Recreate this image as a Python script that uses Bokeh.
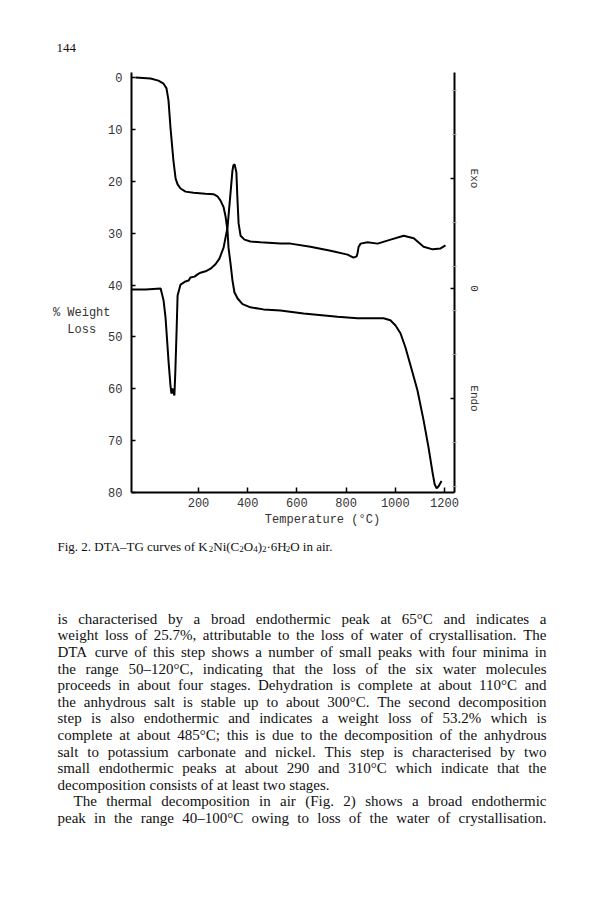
from bokeh.plotting import figure
from bokeh.layouts import column
from bokeh.models import Range1d, LinearAxis, FixedTicker
from bokeh.core.properties import value
from bokeh.embed import file_html
from bokeh.resources import INLINE

# ---------------- data ----------------
# TG curve: temperature (deg C) vs weight loss (%)
tg_temp = [-56, 5, 37, 58, 70, 78, 86, 98, 107, 115, 127, 147, 180, 228, 261, 277, 289, 302, 310,
           318, 322, 330, 338, 346, 359, 379, 411, 464, 533, 627, 765, 846, 952, 980, 1001, 1021,
           1041, 1062, 1090, 1115, 1135, 1152, 1160, 1168, 1176, 1188]
tg_loss = [0.0, 0.2, 0.6, 1.2, 2.1, 4.4, 9.6, 16.0, 19.5, 20.6, 21.4, 22.0, 22.2, 22.4, 22.5, 22.9,
           23.7, 25.0, 26.8, 29.5, 32.8, 35.8, 39.1, 41.4, 42.6, 43.7, 44.3, 44.7, 44.9, 45.5, 46.1,
           46.4, 46.4, 46.8, 47.8, 49.3, 52.0, 55.5, 60.3, 66.1, 71.3, 76.3, 78.4, 79.2, 78.8, 77.8]

# DTA curve: temperature (deg C) vs signal (arbitrary units, exo up)
dta_temp = [-72, -15, 46, 58, 66, 78, 86, 90, 94, 98, 102, 106, 111, 115, 127, 147, 160, 167, 184,
            196, 208, 229, 249, 269, 285, 302, 318, 330, 338, 342, 347, 354, 358, 363, 371, 387,
            411, 452, 533, 574, 655, 737, 806, 830, 843, 847, 851, 859, 887, 928, 981, 1034, 1075,
            1115, 1152, 1184, 1204]
dta_signal = [-0.02, -0.02, 0.0, -0.27, -0.66, -1.64, -2.20, -2.39, -2.27, -2.36, -2.43, -1.86,
              -0.95, -0.16, 0.09, 0.16, 0.18, 0.25, 0.27, 0.32, 0.36, 0.39, 0.45, 0.55, 0.68, 0.93,
              1.39, 2.16, 2.68, 2.80, 2.82, 2.64, 2.07, 1.48, 1.20, 1.11, 1.07, 1.05, 1.02, 1.02,
              0.95, 0.86, 0.77, 0.70, 0.73, 0.82, 0.95, 1.02, 1.05, 1.02, 1.11, 1.20, 1.14, 0.95,
              0.89, 0.91, 0.98]

y_ticks = [0, 10, 20, 30, 40, 50, 60, 70, 80]
x_ticks = [200, 400, 600, 800, 1000, 1200]
dta_label_ticks = [2.5, 0, -2.5]
dta_label_text = ["Exo", "0", "Endo"]
dta_minor = [-4.5, -3.5, -1.5, -0.5, 0.5, 1.5, 3.5, 4.5]

y_title_lines = ["% Weight", "Loss\u00a0\u00a0"]
x_title = "Temperature (\u00b0C)"

page_number = "144"
caption_parts = [("Fig. 2. DTA\u2013TG curves of K", 0), ("2", 1), ("Ni(C", 0), ("2", 1), ("O", 0),
                 ("4", 1), (")", 0), ("2", 1), ("\u00b76H", 0), ("2", 1), ("O in air.", 0)]
body_lines = [
    "is characterised by a broad endothermic peak at 65\u00b0C and indicates a",
    "weight loss of 25.7%, attributable to the loss of water of crystallisation. The",
    "DTA curve of this step shows a number of small peaks with four minima in",
    "the range 50\u2013120\u00b0C, indicating that the loss of the six water molecules",
    "proceeds in about four stages. Dehydration is complete at about 110\u00b0C and",
    "the anhydrous salt is stable up to about 300\u00b0C. The second decomposition",
    "step is also endothermic and indicates a weight loss of 53.2% which is",
    "complete at about 485\u00b0C; this is due to the decomposition of the anhydrous",
    "salt to potassium carbonate and nickel. This step is characterised by two",
    "small endothermic peaks at about 290 and 310\u00b0C which indicate that the",
    "decomposition consists of at least two stages.",
    "The thermal decomposition in air (Fig. 2) shows a broad endothermic",
    "peak in the range 40\u2013100\u00b0C owing to loss of the water of crystallisation.",
]
body_justify = [True] * 10 + [False, True, True]
body_indent = [False] * 11 + [True, False]

# ---------------- geometry (page pixels) ----------------
PAGE_W, PAGE_H = 580, 887
HEAD_H, CHART_BOTTOM = 60, 535
FL, FR, FT, FB = 131, 454, 72, 492           # plot frame edges in page pixels
T0_PX, PX_PER_C = 148.8, 0.246
X_START = (FL - T0_PX) / PX_PER_C
X_END = (FR - T0_PX) / PX_PER_C
Y0_PX, PX_PER_PCT = 77.0, (FB - 77.0) / 80.0
Y_TOP = (FT - Y0_PX) / PX_PER_PCT
Y_BOT = 80.0
D0_PX, PX_PER_D = 288.0, 44.0
D_TOP = (D0_PX - FT) / PX_PER_D
D_BOT = (D0_PX - FB) / PX_PER_D

MONO = "Liberation Mono"
SERIF = "Liberation Serif"
INK = "#111111"
GREY_INK = "#333333"


def no_frame_align(f):
    try:
        f.frame_align = False
    except Exception:
        pass


def page_fig(top, bottom):
    f = figure(width=PAGE_W, height=bottom - top, output_backend="svg", toolbar_location=None,
               x_range=Range1d(0, PAGE_W), y_range=Range1d(bottom, top),
               x_axis_location=None, y_axis_location=None, min_border=0)
    f.min_border_left = f.min_border_right = f.min_border_top = f.min_border_bottom = 0
    f.outline_line_color = None
    f.grid.visible = False
    f.background_fill_color = "white"
    f.border_fill_color = "white"
    no_frame_align(f)
    return f


# ---------------- header ----------------
head = page_fig(0, HEAD_H)
head.text(x=[56], y=[47.5], text=[page_number], text_font=value(SERIF), text_font_size="13px",
          text_align="left", text_baseline="alphabetic", text_color=INK)

# ---------------- chart ----------------
p = figure(width=PAGE_W, height=CHART_BOTTOM - HEAD_H, output_backend="svg", toolbar_location=None,
           x_range=Range1d(X_START, X_END), y_range=Range1d(Y_BOT, Y_TOP),
           min_border_left=FL, min_border_right=PAGE_W - FR,
           min_border_top=FT - HEAD_H, min_border_bottom=CHART_BOTTOM - FB)
no_frame_align(p)
p.extra_y_ranges = {"dta": Range1d(D_BOT, D_TOP)}
p.outline_line_color = None
p.xgrid.visible = False
p.ygrid.visible = False
p.background_fill_color = "white"
p.border_fill_color = "white"


def style_axis(ax, size="12px"):
    ax.axis_line_width = 2
    ax.axis_line_color = "black"
    ax.major_tick_out = 0
    ax.minor_tick_in = 0
    ax.minor_tick_out = 0
    ax.major_tick_line_width = 1.5
    ax.major_label_text_font = MONO
    ax.major_label_text_font_size = size
    ax.major_label_text_color = GREY_INK


def text_axis(ticks, labels, standoff, **kw):
    ax = LinearAxis(ticker=FixedTicker(ticks=ticks),
                    major_label_overrides=dict(zip(ticks, labels)), **kw)
    style_axis(ax)
    ax.axis_line_color = None
    ax.major_tick_line_color = None
    ax.major_tick_in = 0
    ax.major_label_standoff = standoff
    return ax


xa, ya = p.xaxis[0], p.yaxis[0]
style_axis(xa)
style_axis(ya)
xa.ticker = FixedTicker(ticks=x_ticks)
xa.major_tick_in = 5
xa.major_label_standoff = 5
ya.ticker = FixedTicker(ticks=y_ticks)
ya.major_tick_in = 4
ya.major_label_standoff = 9

# left titles as a label-only axis placed outside the tick labels
yt_ticks = [round((313 - Y0_PX) / PX_PER_PCT, 2), round((330 - Y0_PX) / PX_PER_PCT, 2)]
p.add_layout(text_axis(yt_ticks, y_title_lines, -5), "left")

# x title as a label-only axis below the tick labels
xt_ticks = [round((322 - T0_PX) / PX_PER_C)]
p.add_layout(text_axis(xt_ticks, [x_title], 3), "below")

# right DTA axis (Exo / 0 / Endo)
rax = LinearAxis(y_range_name="dta",
                 ticker=FixedTicker(ticks=dta_label_ticks, minor_ticks=dta_minor),
                 major_label_overrides=dict(zip(dta_label_ticks, dta_label_text)))
style_axis(rax, "11px")
rax.major_tick_in = 4
rax.minor_tick_in = 2
rax.minor_tick_out = 2
rax.minor_tick_line_color = "#9a9a9a"
rax.major_label_orientation = "vertical"
rax.major_label_standoff = 11
p.add_layout(rax, "right")

p.line(tg_temp, tg_loss, line_color="black", line_width=2)
p.line(dta_temp, dta_signal, line_color="black", line_width=2, y_range_name="dta")

# ---------------- caption and body text ----------------
txt = page_fig(CHART_BOTTOM, PAGE_H)

TW = {' ': 250, '!': 333, '%': 833, '(': 333, ')': 333, ',': 250, '-': 333, '.': 250, '/': 278,
      ':': 278, ';': 278, '\u00b0': 400, '\u2013': 500, '\u00b7': 250}
for ch in "0123456789":
    TW[ch] = 500
TW.update(dict(zip("ABCDEFGHIJKLMNOPQRSTUVWXYZ",
                   [722, 667, 667, 722, 611, 556, 722, 722, 333, 389, 722, 611, 889, 722, 722,
                    556, 722, 667, 556, 611, 722, 722, 944, 722, 722, 611])))
TW.update(dict(zip("abcdefghijklmnopqrstuvwxyz",
                   [444, 500, 444, 500, 444, 333, 500, 500, 278, 278, 500, 278, 778, 500, 500,
                    500, 500, 333, 389, 278, 500, 500, 722, 500, 500, 444])))


def tw(s, fs):
    return sum(TW.get(c, 500) for c in s) * fs / 1000.0


CAP_FS, SUB_FS = 13, 9
cap_base = 543 + 0.224 * CAP_FS
cx = 57
nx, ny, nt, sx, sy, st = [], [], [], [], [], []
for piece, sub in caption_parts:
    if sub:
        sx.append(cx); sy.append(cap_base + 3); st.append(piece)
        cx += tw(piece, SUB_FS)
    else:
        nx.append(cx); ny.append(cap_base); nt.append(piece)
        cx += tw(piece, CAP_FS)
txt.text(x=nx, y=ny, text=nt, text_font=value(SERIF), text_font_size="13px",
         text_align="left", text_baseline="alphabetic", text_color=INK)
txt.text(x=sx, y=sy, text=st, text_font=value(SERIF), text_font_size="9px",
         text_align="left", text_baseline="alphabetic", text_color=INK)

BODY_FS = 15
X0, X1 = 57, 546
LINE0, LEAD = 615, 16.6
bx, by, bt = [], [], []
for i, line in enumerate(body_lines):
    words = line.split(" ")
    ws = [tw(w, BODY_FS) for w in words]
    left = X0 + (16 if body_indent[i] else 0)
    if body_justify[i] and len(words) > 1:
        gap = (X1 - left - sum(ws)) / (len(words) - 1)
    else:
        gap = 0.25 * BODY_FS
    x = left
    base = LINE0 + i * LEAD + 0.224 * BODY_FS
    for w, wd in zip(words, ws):
        bx.append(x)
        by.append(base)
        bt.append(w)
        x += wd + gap
txt.text(x=bx, y=by, text=bt, text_font=value(SERIF), text_font_size="15px",
         text_align="left", text_baseline="alphabetic", text_color=INK)

layout = column(head, p, txt, spacing=0)
open("out.html", "w").write(file_html(layout, INLINE))
